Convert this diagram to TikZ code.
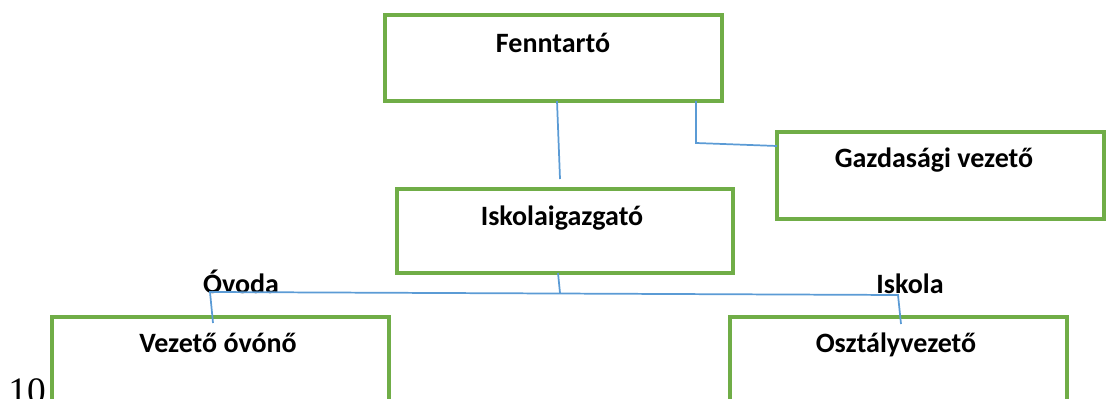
\documentclass[tikz,border=0pt]{standalone}
\usepackage{fontspec}
\setmainfont{Carlito}
\newfontfamily\serifnum{Liberation Serif}
\definecolor{boxgreen}{HTML}{70AD47}
\definecolor{linkblue}{HTML}{5B9BD5}
\begin{document}
\begin{tikzpicture}[x=0.75pt,y=-0.75pt,
  orgbox/.style={draw=boxgreen,line width=2.6pt,fill=none,inner sep=0pt,outer sep=0pt},
  lbl/.style={font=\fontsize{21}{24}\selectfont\bfseries,anchor=base,inner sep=0pt},
  link/.style={draw=linkblue,line width=1.3pt}]
\useasboundingbox (0,0) rectangle (1106,399);
% boxes
\node[orgbox,minimum width=337*0.75pt,minimum height=86*0.75pt] (fenn) at (553.5,58) {};
\node[orgbox,minimum width=327*0.75pt,minimum height=87*0.75pt] (gazd) at (940.5,175.5) {};
\node[orgbox,minimum width=336*0.75pt,minimum height=84*0.75pt] (isk) at (565,231) {};
\node[orgbox,minimum width=337*0.75pt,minimum height=110*0.75pt] (ovo) at (220.5,372) {};
\node[orgbox,minimum width=337*0.75pt,minimum height=110*0.75pt] (oszt) at (898.5,372) {};
% texts
\node[lbl] (tfenn) at (553,53) {Fenntartó};
\node[lbl] (tgazd) at (934,168) {Gazdasági vezető};
\node[lbl] (tisk) at (562,225) {Iskolaigazgató};
\node[lbl] (tovo) at (218,352) {Vezető óvónő};
\node[lbl] (toszt) at (896,352) {Osztályvezető};
\node[lbl] (tovoda) at (241,293) {Óvoda};
\node[lbl] (tiskola) at (910,293) {Iskola};
\node[font=\serifnum\fontsize{28}{30}\selectfont,anchor=base,inner sep=0pt] (pnum) at (27,403) {10};
% connector points
\coordinate (f1) at (fenn.south -| 557,0);
\coordinate (f1e) at (560,179);
\coordinate (f2) at (fenn.south -| 696,0);
\coordinate (f2k) at (696,143);
\coordinate (g1) at (gazd.west |- 0,146);
\coordinate (i1) at (isk.south -| 558,0);
\coordinate (i1k) at (560,293);
\coordinate (hl) at (210,292);
\coordinate (hr) at (898,295);
\coordinate (o1) at (213,323);
\coordinate (o2) at (901,324);
% connectors
\draw[link] (f1) -- (f1e);
\draw[link] (f2) -- (f2k) -- (g1);
\draw[link] (i1) -- (i1k);
\draw[link] (o1) -- (hl) -- (hr) -- (o2);
\end{tikzpicture}
\end{document}
